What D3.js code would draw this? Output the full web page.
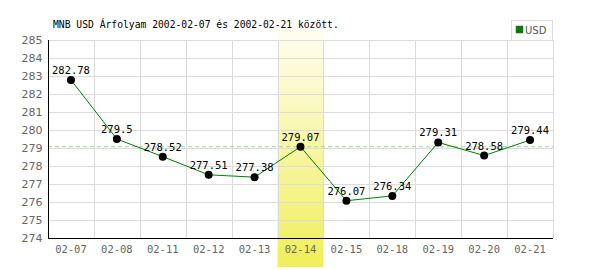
<!DOCTYPE html>
<html><head><meta charset="utf-8">
<script src="https://cdn.jsdelivr.net/npm/d3@7"></script>
<style>body{margin:0;background:#fff}svg{display:block}</style>
</head><body><svg id="c" width="600" height="270"></svg>
<script>
const categories = ["02-07","02-08","02-11","02-12","02-13","02-14","02-15","02-18","02-19","02-20","02-21"];
const values = [282.78,279.5,278.52,277.51,277.38,279.07,276.07,276.34,279.31,278.58,279.44];
const yTicks = [274,275,276,277,278,279,280,281,282,283,284,285];
const highlight = "02-14";
const refValue = 279.07;
const title = "MNB USD Árfolyam 2002-02-07 és 2002-02-21 között.";
const seriesName = "USD";

const svg = d3.select("#c");
const L=48, R=553, T=40, B=238;
const x = d3.scaleBand().domain(categories).range([L,R]);
const y = d3.scaleLinear().domain([274,285]).range([B,T]);
const mono = "'DejaVu Sans Mono', monospace";

const defs = svg.append("defs");
const g = defs.append("linearGradient").attr("id","hl").attr("x1",0).attr("y1",0).attr("x2",0).attr("y2",1);
g.append("stop").attr("offset","0%").attr("stop-color","#fefef0");
g.append("stop").attr("offset","100%").attr("stop-color","#f0ee58");

svg.append("rect").attr("x",x(highlight)).attr("width",x.bandwidth()).attr("y",30).attr("height",237).attr("fill","url(#hl)");

// gridlines
svg.append("g").selectAll("line").data(yTicks).join("line")
  .attr("x1",L).attr("x2",R).attr("y1",d=>Math.round(y(d))+0.5).attr("y2",d=>Math.round(y(d))+0.5)
  .attr("stroke","#dcdcdc");
svg.append("g").selectAll("line").data(categories.slice(1).concat(["end"])).join("line")
  .attr("x1",(d,i)=>Math.round(L+x.step()*(i+1))+0.5).attr("x2",(d,i)=>Math.round(L+x.step()*(i+1))+0.5)
  .attr("y1",T).attr("y2",B).attr("stroke","#dcdcdc");

// reference dashed
svg.append("line").attr("x1",L).attr("x2",R).attr("y1",y(refValue)).attr("y2",y(refValue))
  .attr("stroke","#9ed69e").attr("stroke-dasharray","4,3");

// axes
const yAxis = d3.axisLeft(y).tickValues(yTicks).tickSize(0).tickPadding(6).tickFormat(d3.format("d"));
const ya = svg.append("g").attr("transform",`translate(${L+0.5},0)`).call(yAxis);
ya.select(".domain").attr("stroke","#000").attr("d",`M0,${T}V${B+0.5}`);
ya.selectAll("text").attr("fill","#666").style("font-family","'DejaVu Sans', sans-serif").style("font-size","11px");
const xAxis = d3.axisBottom(x).tickSize(0).tickPadding(7);
const xa = svg.append("g").attr("transform",`translate(0,${B+0.5})`).call(xAxis);
xa.select(".domain").attr("stroke","#000").attr("d",`M${L},0H${R}`);
xa.selectAll("text").attr("fill","#666").style("font-family",mono).style("font-size","10.5px");

// line
const cx = d=>x(d)+x.bandwidth()/2;
svg.append("path").datum(values).attr("fill","none").attr("stroke","#008000").attr("stroke-width",1)
  .attr("d",d3.line().x((d,i)=>cx(categories[i])).y(d=>y(d)));
svg.append("g").selectAll("circle").data(values).join("circle")
  .attr("cx",(d,i)=>cx(categories[i])).attr("cy",d=>y(d)).attr("r",4).attr("fill","#000");
svg.append("g").selectAll("text").data(values).join("text")
  .attr("x",(d,i)=>cx(categories[i])).attr("y",d=>y(d)-6).attr("text-anchor","middle")
  .style("font-family",mono).style("font-size","10.5px").attr("fill","#000").text(d=>d);

// title
svg.append("text").attr("x",53).attr("y",28).style("font-family",mono).style("font-size","9.7px").attr("fill","#000").text(title);

// legend
svg.append("rect").attr("x",511.5).attr("y",20.5).attr("width",41).attr("height",20).attr("fill","#fff").attr("stroke","#dcdcdc");
svg.append("rect").attr("x",516).attr("y",26).attr("width",7).attr("height",7).attr("fill","#008000").attr("stroke","#555").attr("stroke-width",0.5);
svg.append("text").attr("x",525).attr("y",34).style("font-family","'DejaVu Sans', sans-serif").style("font-size","10px").attr("fill","#555").text(seriesName);
</script></body></html>
